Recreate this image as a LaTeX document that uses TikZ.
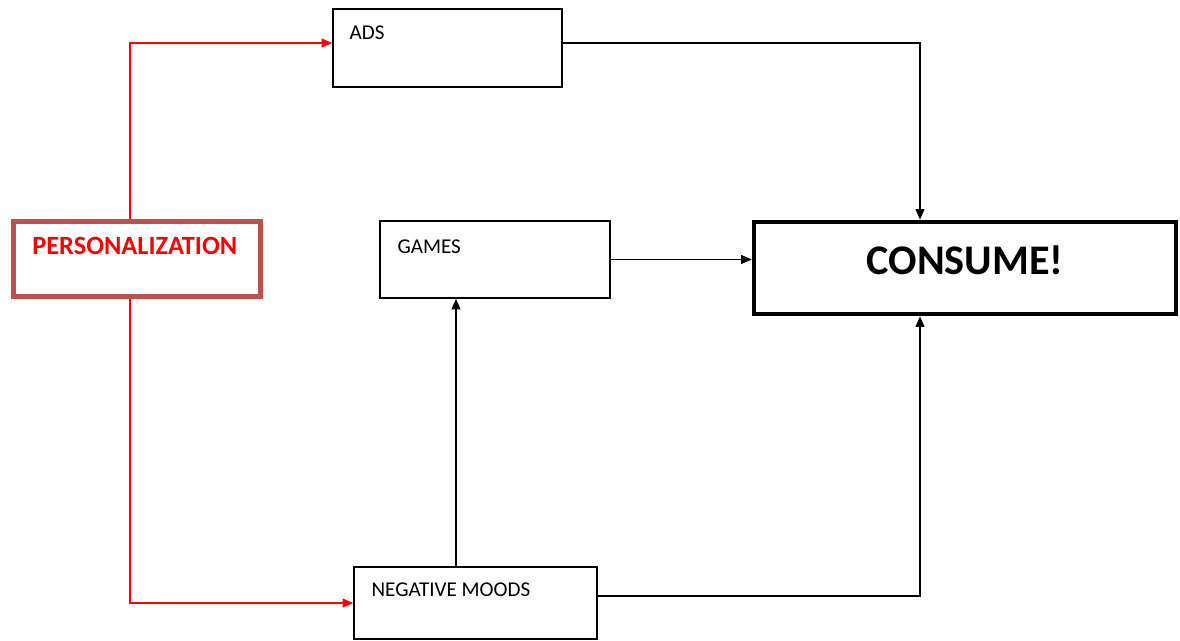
\documentclass[tikz,border=0pt]{standalone}
\usepackage{fontspec}
\setmainfont{Carlito}
\usepackage{xcolor}
\usetikzlibrary{positioning,shapes,arrows.meta,calc}
\definecolor{persred}{RGB}{192,80,77}

\begin{document}
\begin{tikzpicture}[x=0.02cm,y=-0.02cm,
  box/.style={draw,shape=rectangle,line width=0.9pt,inner sep=0pt},
  txt/.style={inner sep=0pt,font=\fontsize{12}{14}\selectfont},
  arr/.style={line width=0.8pt,-{Triangle[length=6pt,width=5pt]}},
  redarr/.style={arr,red}]
\useasboundingbox (0,0) rectangle (1180,641);
      %\draw node at (600,320) {boxes};

\draw node (ads) at (447.5,48) [box,minimum width=4.58cm,minimum height=1.56cm]{};
\draw node (games) at (495,259.5) [box,minimum width=4.6cm,minimum height=1.54cm]{};
\draw node (neg) at (475.5,603) [box,minimum width=4.86cm,minimum height=1.44cm]{};
\draw node (pers) at (137,259) [box,draw=persred,line width=2.6pt,minimum width=4.95cm,minimum height=1.5cm]{};
\draw node (consume) at (965,268) [box,line width=2.3pt,minimum width=8.45cm,minimum height=1.85cm,
  text depth=0.32cm,font=\fontsize{24}{28}\selectfont\bfseries]{CONSUME!};

\node (adst) [txt,below right=0.34cm and 0.34cm of ads.north west] {ADS};
\node (gamest) [txt,below right=0.38cm and 0.36cm of games.north west] {GAMES};
\node (negt) [txt,below right=0.32cm and 0.36cm of neg.north west] {NEGATIVE MOODS};
\node (perst) [txt,below right=0.36cm and 0.42cm of pers.north west,text=red,
  font=\fontsize{15}{18}\selectfont\bfseries] {PERSONALIZATION};

\coordinate (persup) at ($(pers.north)+(-7,0)$);
\coordinate (persdown) at ($(pers.south)+(-7,0)$);
\coordinate (adsin) at ($(ads.west)+(0,-5)$);
\coordinate (adsout) at ($(ads.east)+(0,-5)$);
\coordinate (negup) at ($(neg.north)+(-19.5,0)$);
\coordinate (negout) at ($(neg.east)+(0,-7)$);
\coordinate (contop) at ($(consume.north)+(-45,0)$);
\coordinate (conbot) at ($(consume.south)+(-45,0)$);

\draw[redarr] (persup) |- (adsin);
\draw[redarr] (persdown) |- (neg.west);
\draw[arr] (adsout) -| (contop);
\draw[arr] (games.east) -- (games.east -| consume.west);
\draw[arr] (negup) -- (negup |- games.south);
\draw[arr] (negout) -| (conbot);
\end{tikzpicture}
\end{document}
